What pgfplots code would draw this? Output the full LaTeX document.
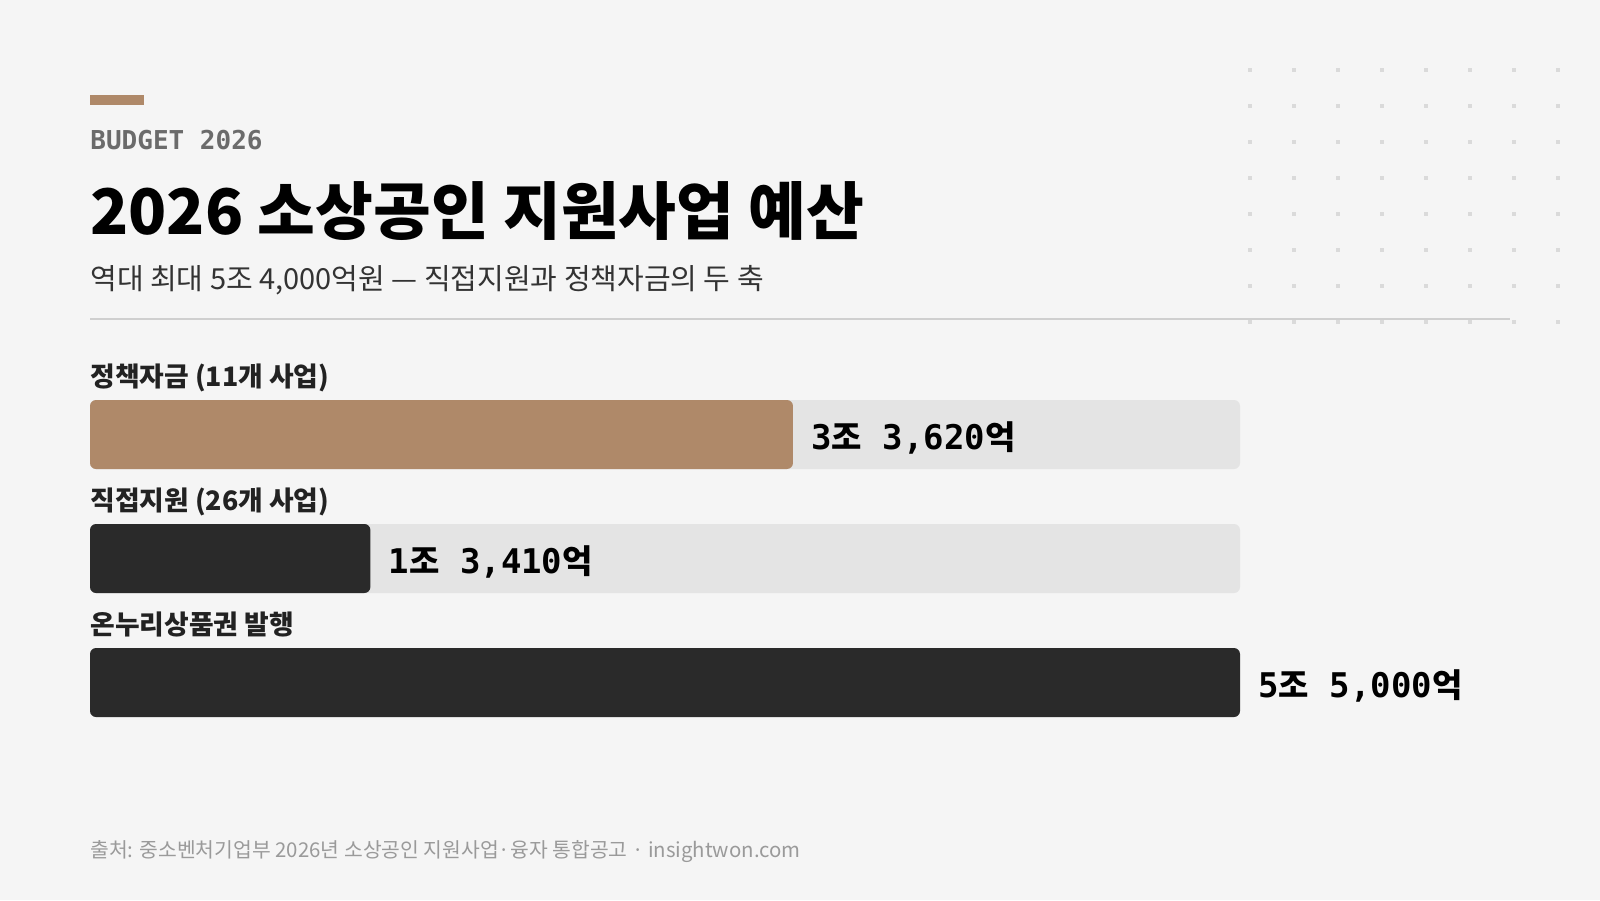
\documentclass[border=0pt]{standalone}
\usepackage{pgfplots}
\pgfplotsset{compat=1.18}
\usepackage{fontspec}
\setmainfont{Noto Sans CJK KR}
\newfontfamily\monofam{DejaVu Sans Mono}
\protected\def\vm{\monofam\bfseries\fontsize{17}{20}\selectfont}
\protected\def\vk{\normalfont\bfseries\fontsize{16.5}{20}\selectfont}
\definecolor{bg}{HTML}{F5F5F5}
\definecolor{accent}{HTML}{AF8969}
\definecolor{dark}{HTML}{2A2A2A}
\definecolor{track}{HTML}{E4E4E4}
\definecolor{rulec}{HTML}{CFCFCF}
\definecolor{dotc}{HTML}{DADADA}
\definecolor{kicker}{HTML}{6B6B6B}
\definecolor{subc}{HTML}{333333}
\definecolor{labc}{HTML}{222222}
\definecolor{footc}{HTML}{9A9A9A}
\begin{document}
\begin{tikzpicture}[x=1pt,y=1pt]
\fill[bg] (0,0) rectangle (800,450);
\useasboundingbox (0,0) rectangle (800,450);
\foreach \i in {0,...,7}{\foreach \j in {0,...,7}{\fill[dotc] ({625+22*\i-1.2},{415-18*\j-1.2}) rectangle ++(2.4,2.4);}}
\fill[accent] (45,397.5) rectangle (72,402.5);
\node[anchor=base west,inner sep=0,text=kicker] at (45,375) {\monofam\bfseries\fontsize{13}{15}\selectfont BUDGET 2026};
\node[anchor=base west,inner sep=0,text=black] at (45,332.5) {\bfseries\fontsize{31.4}{38}\selectfont 2026 소상공인 지원사업 예산};
\node[anchor=base west,inner sep=0,text=subc] at (45,305) {\fontsize{14.5}{17}\selectfont 역대 최대 5조 4,000억원 — 직접지원과 정책자금의 두 축};
\draw[rulec, line width=0.7pt] (45,290.5) -- (755,290.5);
\begin{axis}[
  at={(45pt,77.75pt)}, anchor=south west,
  scale only axis, width=575pt, height=186pt,
  xmin=0, xmax=55000, ymin=-0.5, ymax=2.5, y dir=reverse,
  hide axis, clip=false,
  xbar, bar width=34.5pt,
]
\addplot[fill=track, draw=none, rounded corners=3pt, bar shift=0pt] coordinates {(55000,0) (55000,1)};
\addplot[fill=accent, draw=none, rounded corners=3pt, bar shift=0pt,
  nodes near coords, point meta=explicit symbolic,
  nodes near coords style={anchor=west, inner sep=0pt, xshift=9pt, yshift=-1.5pt, text=black}]
  coordinates {(33620,0) [{\vm 3\vk 조\vm{} 3,620\vk 억}]};
\addplot[fill=dark, draw=none, rounded corners=3pt, bar shift=0pt,
  nodes near coords, point meta=explicit symbolic,
  nodes near coords style={anchor=west, inner sep=0pt, xshift=9pt, yshift=-1.5pt, text=black}]
  coordinates {(13410,1) [{\vm 1\vk 조\vm{} 3,410\vk 억}] (55000,2) [{\vm 5\vk 조\vm{} 5,000\vk 억}]};
\node[anchor=base west, inner sep=0, text=labc] at (axis cs:0,-0.39) {\bfseries\fontsize{13.4}{16}\selectfont 정책자금 (11개 사업)};
\node[anchor=base west, inner sep=0, text=labc] at (axis cs:0,0.61) {\bfseries\fontsize{13.4}{16}\selectfont 직접지원 (26개 사업)};
\node[anchor=base west, inner sep=0, text=labc] at (axis cs:0,1.61) {\bfseries\fontsize{13.4}{16}\selectfont 온누리상품권 발행};
\end{axis}
\node[anchor=base west,inner sep=0,text=footc] at (45,21.5) {\fontsize{10.2}{12}\selectfont 출처: 중소벤처기업부 2026년 소상공인 지원사업·융자 통합공고 · insightwon.com};
\end{tikzpicture}
\end{document}
